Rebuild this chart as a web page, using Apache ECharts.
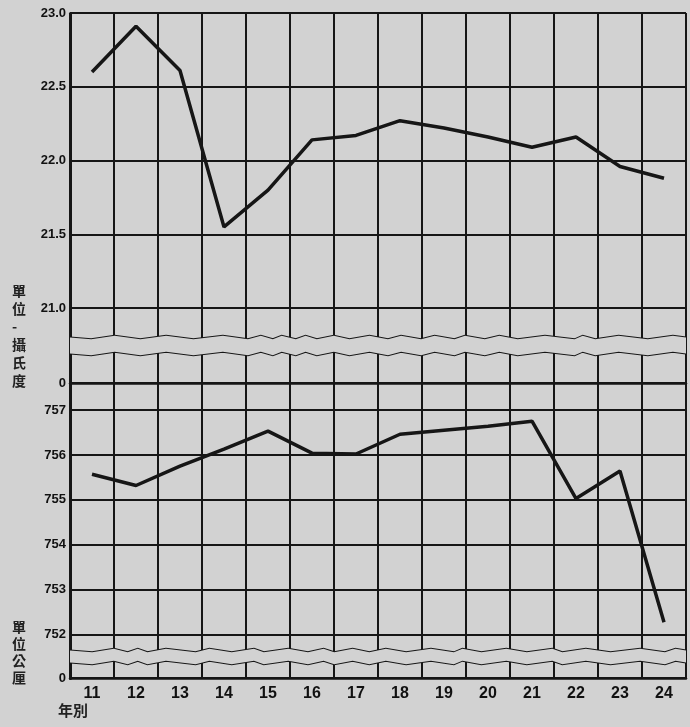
<!DOCTYPE html>
<html>
<head>
<meta charset="utf-8">
<script src="https://cdn.jsdelivr.net/npm/echarts@6/dist/echarts.min.js"></script>
<style>
html,body{margin:0;padding:0;background:#d2d2d2;}
#c{width:690px;height:727px;}
</style>
</head>
<body>
<div id="c"></div>
<script>
// 年別 (categories)
const years = ['11','12','13','14','15','16','17','18','19','20','21','22','23','24'];
// 氣溫 攝氏度
const temperature = [22.6, 22.91, 22.61, 21.55, 21.8, 22.14, 22.17, 22.27, 22.22, 22.16, 22.09, 22.16, 21.96, 21.88];
// 氣壓 公厘
const pressure = [755.57, 755.32, 755.75, 756.13, 756.53, 756.04, 756.02, 756.46, 756.55, 756.64, 756.75, 755.03, 755.64, 752.28];
// tick values next to the axis breaks
const tempEdgeTicks = [21, 0];
const presEdgeTicks = [752, 0];

const ink = '#161616';
const paper = '#d2d2d2';
const numFont = 'Liberation Sans';
const cjkFont = 'Noto Sans CJK TC';

const chart = echarts.init(document.getElementById('c'), null, {renderer:'canvas'});

const breakArea = {
  show: true,
  itemStyle: {color: paper, borderColor: ink, borderWidth: 2, borderType: 'solid', opacity: 1},
  zigzagAmplitude: 1.8,
  zigzagMinSpan: 8,
  zigzagMaxSpan: 30,
  zigzagZ: 100,
  expandOnClick: false
};

const xCommon = {
  type: 'category',
  data: years,
  boundaryGap: true,
  axisTick: {show: false},
  axisLine: {show: true, lineStyle: {color: ink, width: 2.5}},
  splitLine: {show: true, interval: 0, lineStyle: {color: ink, width: 2}}
};

const labelStyle = {color: '#111', fontFamily: numFont, fontWeight: 'bold', fontSize: 13};

const yCommon = {
  type: 'value',
  axisTick: {show: false},
  axisLine: {show: true, lineStyle: {color: ink, width: 3}},
  splitLine: {show: true, lineStyle: {color: ink, width: 2}},
  axisLabel: Object.assign({margin: 4, showMaxLabel: true}, labelStyle)
};

function edgeMarks(vals, fmt) {
  return {
    silent: true, symbol: 'none', animation: false, z: 3,
    lineStyle: {color: ink, width: 2, type: 'solid'},
    label: Object.assign({position: 'start', distance: 4, formatter: p => p.name}, labelStyle),
    emphasis: {disabled: true},
    data: vals.map(v => ({yAxis: v, name: fmt(v)}))
  };
}
const tempFmt = v => v === 0 ? '0' : v.toFixed(1);
const presFmt = v => String(v);

chart.setOption({
  backgroundColor: paper,
  animation: false,
  grid: [
    {left: 70, right: 4, top: 13, height: 370},
    {left: 70, right: 4, top: 383, height: 295}
  ],
  xAxis: [
    Object.assign({}, xCommon, {gridIndex: 0, axisLabel: {show: false}}),
    Object.assign({}, xCommon, {gridIndex: 1, axisLabel: {show: true, color: '#111', fontFamily: numFont, fontWeight: 'bold', fontSize: 16, margin: 8, interval: 0}})
  ],
  yAxis: [
    Object.assign({}, yCommon, {
      gridIndex: 0, min: 0, max: 23, interval: 0.5,
      breaks: [{start: 0.2, end: 20.8, gap: '4.3%'}],
      breakArea: breakArea,
      axisLabel: Object.assign({}, yCommon.axisLabel, {
        formatter: v => (v > 20.9 && Math.abs(v*2 - Math.round(v*2)) < 1e-6) ? tempFmt(v) : ''
      })
    }),
    Object.assign({}, yCommon, {
      gridIndex: 1, min: 0, max: 757.6, interval: 1,
      breaks: [{start: 0.35, end: 751.65, gap: '4%'}],
      breakArea: breakArea,
      axisLabel: Object.assign({}, yCommon.axisLabel, {
        showMaxLabel: false,
        formatter: v => (v > 751.9 && Math.abs(v - Math.round(v)) < 1e-6) ? presFmt(v) : ''
      })
    })
  ],
  series: [
    {type: 'line', xAxisIndex: 0, yAxisIndex: 0, data: temperature, symbol: 'none',
     lineStyle: {color: ink, width: 3.5}, z: 5, markLine: edgeMarks(tempEdgeTicks, tempFmt)},
    {type: 'line', xAxisIndex: 1, yAxisIndex: 1, data: pressure, symbol: 'none',
     lineStyle: {color: ink, width: 3.5}, z: 5, markLine: edgeMarks(presEdgeTicks, presFmt)}
  ],
  graphic: [
    {type: 'text', left: 12, top: 282, style: {text: '單\n位\n-\n攝\n氏\n度', fill: '#222', font: 'bold 14px "' + cjkFont + '"', lineHeight: 18}},
    {type: 'text', left: 12, top: 618, style: {text: '單\n位\n公\n厘', fill: '#222', font: 'bold 14px "' + cjkFont + '"', lineHeight: 17}},
    {type: 'text', left: 58, top: 703, style: {text: '年別', fill: '#222', font: 'bold 15px "' + cjkFont + '"'}}
  ]
});
</script>
</body>
</html>
